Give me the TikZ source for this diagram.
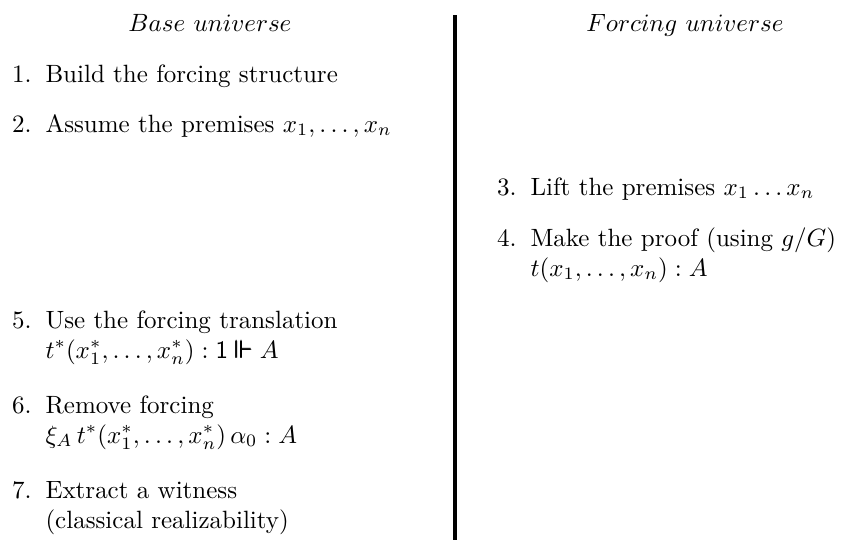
\documentclass[tikz,border=0pt]{standalone}
\usepackage{amsmath,amssymb}
\usepackage{tikz}
\usetikzlibrary{positioning}
\newcommand{\twolines}[2]{\begin{tabular}[t]{@{}l@{}}#1\\#2\end{tabular}}

\begin{document}
\begin{tikzpicture}[x=0.4pt, y=-0.4pt,
    head/.style={anchor=base, inner sep=0pt},
    num/.style={anchor=base east, inner sep=0pt},
    itemtext/.style={anchor=base west, inner sep=0pt},
    divider/.style={line width=1.3pt}
]
\useasboundingbox (0,0) rectangle (856,541);

% column headers
\node[head] (hbase) at (210,31) {$Base\ universe$};
\node[head] (hforce) at (685,31) {$Forcing\ universe$};

% base universe steps
\node[num] (n1) at (32,82) {1.};
\node[itemtext] (s1) at (45,82) {Build the forcing structure};
\node[num] (n2) at (32,132) {2.};
\node[itemtext] (s2) at (45,132) {Assume the premises $x_1,\dots,x_n$};
\node[num] (n5) at (32,328) {5.};
\node[itemtext] (s5) at (45,328) {\twolines{Use the forcing translation}{$t^*(x_1^*,\dots,x_n^*) : \mathsf{1} \mathrel{\pmb{\Vdash}} A$}};
\node[num] (n6) at (32,413) {6.};
\node[itemtext] (s6) at (45,413) {\twolines{Remove forcing}{$\xi_A\, t^*(x_1^*,\dots,x_n^*)\, \alpha_0 : A$}};
\node[num] (n7) at (32,498) {7.};
\node[itemtext] (s7) at (45,498) {\twolines{Extract a witness}{(classical realizability)}};

% forcing universe steps
\node[num] (n3) at (517,195) {3.};
\node[itemtext] (s3) at (530,195) {Lift the premises $x_1\dots x_n$};
\node[num] (n4) at (517,246) {4.};
\node[itemtext] (s4) at (530,246) {\twolines{Make the proof (using $g/G$)}{$t(x_1,\dots,x_n) : A$}};

% separation
\coordinate (divtop) at (455,15);
\coordinate (divbot) at (455,540);
\draw[divider] (divtop) -- (divbot);
\end{tikzpicture}
\end{document}
